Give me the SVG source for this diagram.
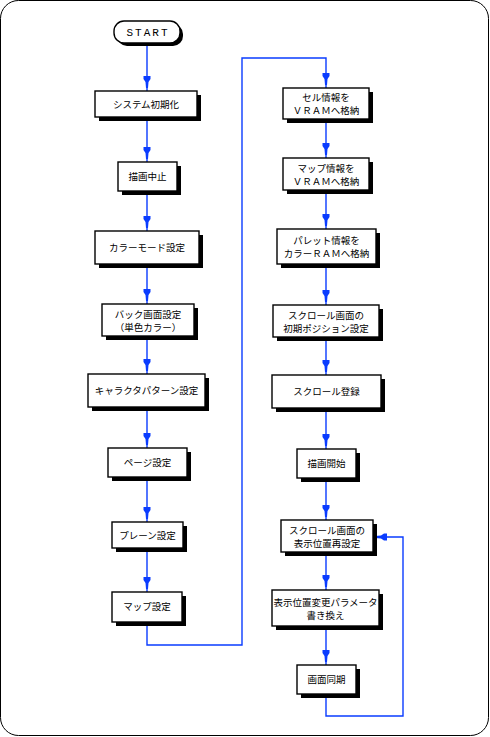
<svg xmlns="http://www.w3.org/2000/svg" xmlns:xlink="http://www.w3.org/1999/xlink" width="490" height="737" viewBox="0 0 490 737">
<defs>
<style>
.box{fill:#fff;stroke:#000;stroke-width:1.4}
.sh{fill:#000}
.t{font-family:"Noto Sans CJK JP","Noto Sans",sans-serif;font-size:9.5px;fill:#000;text-anchor:middle}
.st{font-family:"Liberation Mono",monospace;font-size:11px;letter-spacing:2px;fill:#000;text-anchor:middle}
.ln{fill:none;stroke:#0a3cff;stroke-width:1.4}
.ah{fill:#0a3cff}
</style>
<path id="ah" d="M-3.5,-12 L3.5,-12 L3.5,-9 L1.5,-6 L1,0 L-1,0 L-1.5,-6 L-3.5,-9 Z"/>
</defs>
<rect x="0.5" y="0.5" width="488" height="735" rx="18" ry="18" fill="#fff" stroke="#000" stroke-width="1"/>

<g id="connectors">
<path class="ln" d="M147,43 V91 M147,117 V162 M147,191 V231 M147,264 V304 M147,336 V374 M147,407 V448 M147,477 V522 M147,548 V592"/>
<path class="ln" d="M147,622 V645 H242 V58 H326 V88"/>
<path class="ln" d="M326,119 V158 M326,190 V229 M326,264 V305 M326,337 V375 M326,408 V449 M326,478 V520 M326,552 V590 M326,626 V665"/>
<path class="ln" d="M326,694 V716 H403 V537 H374"/>
<g class="ah">
<use xlink:href="#ah" transform="translate(147,88)"/>
<use xlink:href="#ah" transform="translate(147,159)"/>
<use xlink:href="#ah" transform="translate(147,228)"/>
<use xlink:href="#ah" transform="translate(147,301)"/>
<use xlink:href="#ah" transform="translate(147,371)"/>
<use xlink:href="#ah" transform="translate(147,445)"/>
<use xlink:href="#ah" transform="translate(147,519)"/>
<use xlink:href="#ah" transform="translate(147,589)"/>
<use xlink:href="#ah" transform="translate(326,85)"/>
<use xlink:href="#ah" transform="translate(326,155)"/>
<use xlink:href="#ah" transform="translate(326,226)"/>
<use xlink:href="#ah" transform="translate(326,302)"/>
<use xlink:href="#ah" transform="translate(326,372)"/>
<use xlink:href="#ah" transform="translate(326,446)"/>
<use xlink:href="#ah" transform="translate(326,517)"/>
<use xlink:href="#ah" transform="translate(326,587)"/>
<use xlink:href="#ah" transform="translate(326,662)"/>
<use xlink:href="#ah" transform="translate(375,537) rotate(90)"/>
</g>
</g>

<g id="start">
<rect class="sh" x="117" y="24" width="66" height="22" rx="10"/>
<rect class="box" x="114" y="21" width="66" height="22" rx="10"/>
<text class="st" x="148" y="36">START</text>
</g>
<g id="n1">
<rect class="sh" x="99" y="95" width="102" height="26"/>
<rect class="box" x="95" y="91" width="102" height="26"/>
<text class="t" x="146" y="107.5">システム初期化</text>
</g>
<g id="n2">
<rect class="sh" x="122" y="166" width="59" height="29"/>
<rect class="box" x="118" y="162" width="59" height="29"/>
<text class="t" x="147.5" y="180">描画中止</text>
</g>
<g id="n3">
<rect class="sh" x="99" y="235" width="104" height="33"/>
<rect class="box" x="95" y="231" width="104" height="33"/>
<text class="t" x="147" y="251">カラーモード設定</text>
</g>
<g id="n4">
<rect class="sh" x="106" y="308" width="92" height="32"/>
<rect class="box" x="102" y="304" width="92" height="32"/>
<text class="t" x="148" y="318">バック画面設定</text>
<text class="t" x="148" y="331">（単色カラー）</text>
</g>
<g id="n5">
<rect class="sh" x="92" y="378" width="117" height="33"/>
<rect class="box" x="88" y="374" width="117" height="33"/>
<text class="t" x="146.5" y="394">キャラクタパターン設定</text>
</g>
<g id="n6">
<rect class="sh" x="112" y="452" width="79" height="29"/>
<rect class="box" x="108" y="448" width="79" height="29"/>
<text class="t" x="147.5" y="466">ページ設定</text>
</g>
<g id="n7">
<rect class="sh" x="116" y="526" width="71" height="26"/>
<rect class="box" x="112" y="522" width="71" height="26"/>
<text class="t" x="147.5" y="539">プレーン設定</text>
</g>
<g id="n8">
<rect class="sh" x="116" y="596" width="70" height="30"/>
<rect class="box" x="112" y="592" width="70" height="30"/>
<text class="t" x="147" y="610">マップ設定</text>
</g>
<g id="n9">
<rect class="sh" x="287" y="92" width="86" height="31"/>
<rect class="box" x="283" y="88" width="86" height="31"/>
<text class="t" x="326" y="101">セル情報を</text>
<text class="t" x="326" y="114">ＶＲＡＭへ格納</text>
</g>
<g id="n10">
<rect class="sh" x="287" y="162" width="86" height="32"/>
<rect class="box" x="283" y="158" width="86" height="32"/>
<text class="t" x="326" y="172">マップ情報を</text>
<text class="t" x="326" y="185">ＶＲＡＭへ格納</text>
</g>
<g id="n11">
<rect class="sh" x="281" y="233" width="99" height="35"/>
<rect class="box" x="277" y="229" width="99" height="35"/>
<text class="t" x="326.5" y="244">パレット情報を</text>
<text class="t" x="326.5" y="257">カラーＲＡＭへ格納</text>
</g>
<g id="n12">
<rect class="sh" x="277" y="309" width="106" height="32"/>
<rect class="box" x="273" y="305" width="106" height="32"/>
<text class="t" x="326" y="319">スクロール画面の</text>
<text class="t" x="326" y="332">初期ポジション設定</text>
</g>
<g id="n13">
<rect class="sh" x="276" y="379" width="109" height="33"/>
<rect class="box" x="272" y="375" width="109" height="33"/>
<text class="t" x="326.5" y="395">スクロール登録</text>
</g>
<g id="n14">
<rect class="sh" x="301" y="453" width="59" height="29"/>
<rect class="box" x="297" y="449" width="59" height="29"/>
<text class="t" x="326.5" y="467">描画開始</text>
</g>
<g id="n15">
<rect class="sh" x="285" y="524" width="92" height="32"/>
<rect class="box" x="281" y="520" width="92" height="32"/>
<text class="t" x="327" y="534">スクロール画面の</text>
<text class="t" x="327" y="547">表示位置再設定</text>
</g>
<g id="n16">
<rect class="sh" x="276" y="594" width="107" height="36"/>
<rect class="box" x="272" y="590" width="107" height="36"/>
<text class="t" x="325.5" y="606">表示位置変更パラメータ</text>
<text class="t" x="325.5" y="619">書き換え</text>
</g>
<g id="n17">
<rect class="sh" x="301" y="669" width="59" height="29"/>
<rect class="box" x="297" y="665" width="59" height="29"/>
<text class="t" x="326.5" y="683">画面同期</text>
</g>
</svg>
